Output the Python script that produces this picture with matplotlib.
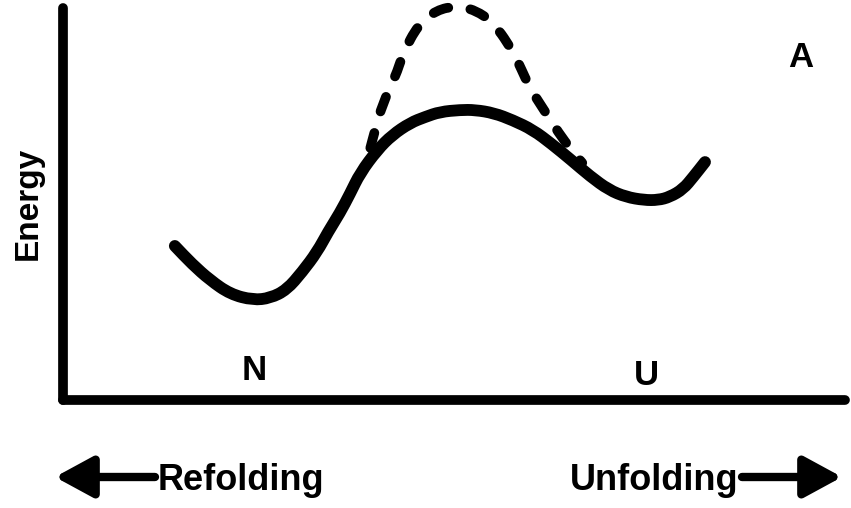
import matplotlib.pyplot as plt
from matplotlib.path import Path
from matplotlib.patches import PathPatch

plt.rcParams["font.family"] = ["Liberation Sans", "DejaVu Sans"]
plt.rcParams["font.weight"] = "bold"

# reaction coordinate (0-100) vs energy (0-100)
solid_x = [14.3, 16.5, 18.8, 21.4, 24.3, 26.5, 28.6, 30.6, 32.5, 33.9, 35.4, 36.7,
           38.0, 40.2, 42.1, 44.4, 46.3, 48.2, 50.8, 52.7, 55.1, 57.5, 60.1, 62.5,
           65.0, 67.4, 69.8, 72.0, 74.3, 76.1, 77.6, 79.3, 80.6, 82.1]
solid_y = [39.3, 34.7, 30.6, 27.0, 25.5, 26.0, 28.1, 32.7, 37.8, 42.9, 47.7, 52.6,
           57.9, 63.8, 67.6, 70.7, 72.2, 73.5, 74.0, 74.0, 73.2, 71.4, 68.9, 65.3,
           61.2, 57.1, 53.6, 51.8, 51.0, 51.0, 51.8, 53.8, 56.9, 60.7]

dash_x = [39.3, 39.8, 40.9, 42.5, 43.5, 45.4, 47.8, 50.3, 52.7, 55.1, 57.7, 59.6,
          61.5, 63.4, 65.0, 66.4]
dash_y = [64.3, 68.1, 75.8, 82.4, 88.5, 95.7, 99.5, 100.5, 99.5, 96.2, 88.5, 79.9,
          74.0, 68.1, 63.8, 60.5]

ylabel = "Energy"
state_labels = ["N", "U"]
panel_label = "A"
left_label = "Refolding"
right_label = "Unfolding"


def smooth_path(xs, ys):
    # quadratic bezier through the midpoints, read points used as controls
    pts = list(zip(xs, ys))
    verts = [pts[0], ((pts[0][0] + pts[1][0]) / 2, (pts[0][1] + pts[1][1]) / 2)]
    codes = [Path.MOVETO, Path.LINETO]
    for i in range(1, len(pts) - 1):
        mid = ((pts[i][0] + pts[i + 1][0]) / 2, (pts[i][1] + pts[i + 1][1]) / 2)
        verts += [pts[i], mid]
        codes += [Path.CURVE3, Path.CURVE3]
    verts.append(pts[-1])
    codes.append(Path.LINETO)
    return Path(verts, codes)


W, H = 851, 508
fig = plt.figure(figsize=(W / 100, H / 100), dpi=100)
ax = fig.add_axes([63 / W, 108 / H, 782 / W, 392 / H])
ax.set_xlim(0, 100)
ax.set_ylim(0, 100)

dashed = PathPatch(smooth_path(dash_x, dash_y), fill=False, color="black", lw=7,
                   linestyle=(0, (1.6, 2.3)), capstyle="round", clip_on=False,
                   zorder=2)
solid = PathPatch(smooth_path(solid_x, solid_y), fill=False, color="black", lw=8.5,
                  capstyle="round", joinstyle="round", clip_on=False, zorder=3)
ax.add_patch(dashed)
ax.add_patch(solid)

for side in ["top", "right"]:
    ax.spines[side].set_visible(False)
for side in ["left", "bottom"]:
    ax.spines[side].set_linewidth(7)
    ax.spines[side].set_capstyle("round")
ax.set_xticks([])
ax.set_yticks([])


def fx(px):
    return px / W


def fy(py):
    return 1 - py / H


fig.text(fx(28), fy(203), ylabel, rotation=90, ha="center", va="center",
         fontsize=24, fontweight="bold")
fig.text(fx(254), fy(380), state_labels[0], ha="center", va="baseline",
         fontsize=25, fontweight="bold")
fig.text(fx(646), fy(385), state_labels[1], ha="center", va="baseline",
         fontsize=25, fontweight="bold")
fig.text(fx(801), fy(67), panel_label, ha="center", va="baseline",
         fontsize=25, fontweight="bold")
fig.text(fx(158), fy(490), left_label, ha="left", va="baseline",
         fontsize=26, fontweight="bold")
fig.text(fx(738), fy(490), right_label, ha="right", va="baseline",
         fontsize=26, fontweight="bold")

arrow = dict(arrowstyle="-|>,head_length=2.3,head_width=1.25", mutation_scale=10,
             lw=6, color="black", shrinkA=0, shrinkB=0, joinstyle="round",
             capstyle="round")
ax.annotate("", xy=(55, H - 477), xytext=(155, H - 477),
            xycoords="figure pixels", textcoords="figure pixels", arrowprops=arrow)
ax.annotate("", xy=(842, H - 477), xytext=(742, H - 477),
            xycoords="figure pixels", textcoords="figure pixels", arrowprops=arrow)

fig.savefig("out.png", dpi=100)
